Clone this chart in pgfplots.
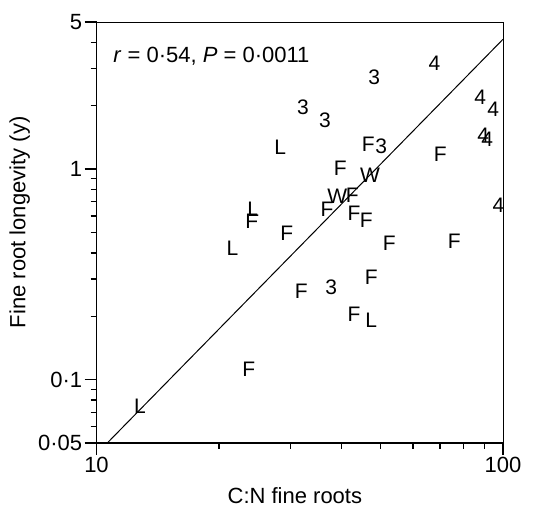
\documentclass[border=0pt]{standalone}
\usepackage{pgfplots}
\pgfplotsset{compat=1.18}
\usepackage{pgfplotstable}
\usepackage{fontspec}
\setmainfont{Liberation Sans}

\pgfplotstableread{
x y label
48.2 2.74 3
32.2 1.97 3
36.5 1.71 3
28.3 1.27 L
46.6 1.315 F
50.2 1.29 3
39.8 1.01 F
67.8 3.19 4
87.9 2.20 4
94.6 1.93 4
89.4 1.45 4
91.5 1.39 4
70.1 1.17 F
47.1 0.937 W
39.1 0.745 W
42.6 0.753 F
36.9 0.646 F
43.0 0.618 F
46.1 0.573 F
24.3 0.646 L
24.1 0.566 F
29.4 0.496 F
21.6 0.421 L
52.5 0.445 F
97.4 0.674 4
75.9 0.455 F
31.9 0.263 F
37.8 0.275 3
47.4 0.307 F
43.0 0.2045 F
47.4 0.1915 L
23.7 0.112 F
12.8 0.0747 L
}\datatable

\begin{document}
\fontsize{11}{13}\selectfont
\begin{tikzpicture}
\begin{axis}[
  scale only axis,
  width=203.25pt, height=210.5pt,
  xmode=log, ymode=log,
  xmin=10, xmax=100, ymin=0.05, ymax=5,
  axis x line*=bottom, axis y line*=left,
  axis line style={line width=0.8pt, -},
  tick align=outside,
  xminorticks=false, yminorticks=false,
  xtick style={black, line width=0.7pt},
  ytick style={black, line width=0.7pt},
  major tick length=3pt,
  xtick={20,30,40,50,60,70,80,90}, xticklabels={},
  ytick={0.06,0.07,0.08,0.09,0.2,0.3,0.4,0.5,0.6,0.7,0.8,0.9,2,3,4}, yticklabels={},
  extra x ticks={10,100}, extra x tick labels={10,100},
  extra x tick style={major tick length=6pt},
  extra y ticks={0.05,0.1,1,5}, extra y tick labels={0·05,0·1,1,5},
  extra y tick style={major tick length=6pt},
  /pgf/number format/assume math mode=true,
  xticklabel style={inner sep=1pt},
  yticklabel style={inner sep=1pt},
  xlabel={C:N fine roots},
  ylabel={Fine root longevity (y)},
  xlabel style={at={(axis description cs:0.488,-0.1045)}, anchor=north, inner sep=0pt},
  ylabel style={at={(axis description cs:-0.189,0.524)}, anchor=center, inner sep=0pt},
  clip=false,
]
\addplot[black, line width=0.5pt, no marks] coordinates {(10.63,0.05) (100,4.14)};
\addplot[only marks, mark=none, nodes near coords, point meta=explicit symbolic,
  nodes near coords style={anchor=center, inner sep=0pt, font=\fontsize{10.5}{12}\selectfont}]
  table[x=x, y=y, meta=label] {\datatable};
\draw[line width=0.4pt] (rel axis cs:0,1) -- (rel axis cs:1,1) -- (rel axis cs:1,0);
\node[anchor=base west, inner sep=0pt] at (rel axis cs:0.0406,0.9033) {\textit{r} = 0·54, \textit{P} = 0·0011};
\coordinate (sw) at (rel axis cs:0,0);
\coordinate (ne) at (rel axis cs:1,1);
\end{axis}
\path ([shift={(-48.25pt,-31.5pt)}]sw) rectangle ([shift={(19pt,11pt)}]ne);
\end{tikzpicture}
\end{document}
